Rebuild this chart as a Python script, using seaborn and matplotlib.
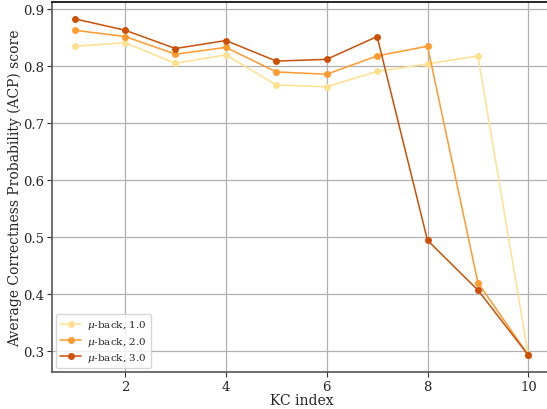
import matplotlib
matplotlib.use("Agg")
import matplotlib.pyplot as plt
import seaborn as sns
import pandas as pd

kc_index = [1, 2, 3, 4, 5, 6, 7, 8, 9, 10]
mu_back_1 = [0.834, 0.840, 0.804, 0.819, 0.766, 0.763, 0.790, 0.803, 0.817, 0.293]
mu_back_2 = [0.862, 0.851, 0.820, 0.832, 0.789, 0.785, 0.817, 0.834, 0.420, 0.293]
mu_back_3 = [0.882, 0.862, 0.830, 0.844, 0.808, 0.811, 0.851, 0.494, 0.407, 0.293]
labels = [r"$\mu$-back, 1.0", r"$\mu$-back, 2.0", r"$\mu$-back, 3.0"]
colors = ["#fee08f", "#fe9a2e", "#cc5006"]

rows = []
for lab, vals in zip(labels, [mu_back_1, mu_back_2, mu_back_3]):
    for k, v in zip(kc_index, vals):
        rows.append({"KC index": k, "score": v, "series": lab})
df = pd.DataFrame(rows)

sns.set_style("whitegrid")
plt.rcParams["font.family"] = ["DejaVu Serif"]
plt.rcParams["mathtext.fontset"] = "dejavuserif"

fig = plt.figure(figsize=(5.47, 4.10), dpi=100)
ax = fig.add_axes([52/547, 37/410, 499/547, 370/410])

sns.lineplot(data=df, x="KC index", y="score", hue="series", palette=colors,
             marker="o", markersize=5, markeredgewidth=0, linewidth=1.1, ax=ax)

ax.set_xticks([2, 4, 6, 8, 10])
ax.set_yticks([0.3, 0.4, 0.5, 0.6, 0.7, 0.8, 0.9])
ax.set_yticklabels(["0.3", "0.4", "0.5", "0.6", "0.7", "0.8", "0.9"])
ax.grid(True, color="#b0b0b0", linewidth=0.9)
ax.set_xlabel("KC index", fontsize=10, labelpad=0)
ax.set_ylabel("Average Correctness Probability (ACP) score", fontsize=10, labelpad=1)
ax.tick_params(axis="both", labelsize=9.5, length=3.5, width=0.8, color="#333333",
               bottom=True, left=True, pad=2)
for s in ["left", "bottom"]:
    ax.spines[s].set_color("#555555")
    ax.spines[s].set_linewidth(1.2)
ax.spines["top"].set_color("black")
ax.spines["top"].set_linewidth(1.2)
ax.spines["right"].set_visible(False)

leg = ax.legend(loc="lower left", fontsize=7.5, frameon=True, title=None,
                labelspacing=0.3, borderpad=0.4, handlelength=2.0,
                handletextpad=0.6, borderaxespad=0.4)

fig.savefig("out.png", dpi=100)
